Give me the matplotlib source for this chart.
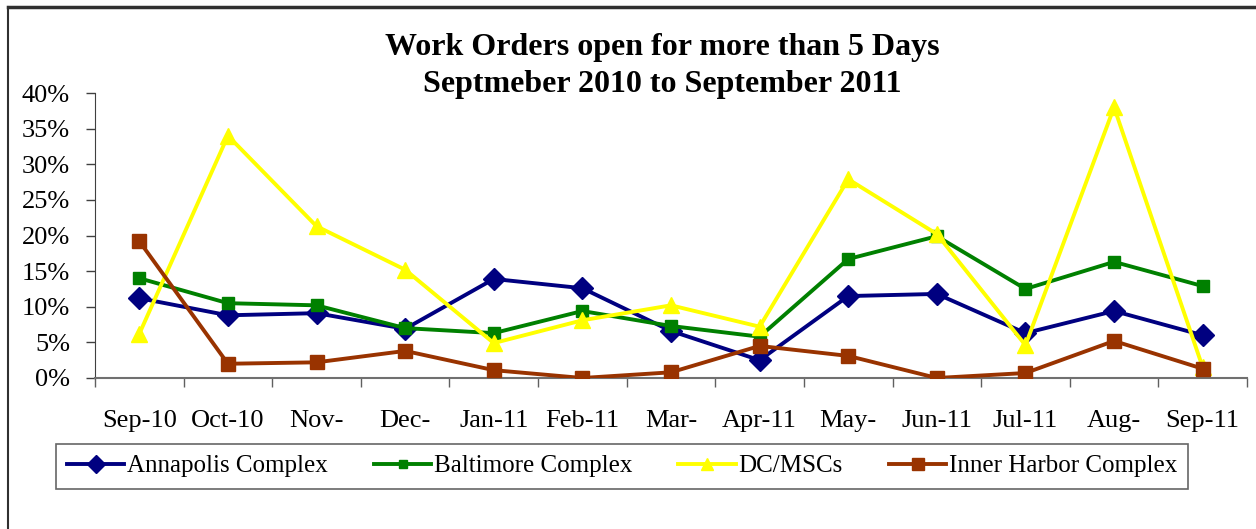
import numpy as np
import matplotlib
matplotlib.use("Agg")
import matplotlib.pyplot as plt
from matplotlib.lines import Line2D

months = ["Sep-10", "Oct-10", "Nov-", "Dec-", "Jan-11", "Feb-11", "Mar-",
          "Apr-11", "May-", "Jun-11", "Jul-11", "Aug-", "Sep-11"]

annapolis = [11.2, 8.8, 9.1, 6.9, 13.9, 12.6, 6.6, 2.5, 11.5, 11.8, 6.3, 9.4, 6.0]
baltimore = [14.0, 10.5, 10.2, 7.0, 6.3, 9.4, 7.3, 5.8, 16.7, 19.9, 12.5, 16.3, 12.9]
dc_mscs = [6.2, 34.0, 21.3, 15.2, 4.9, 8.1, 10.2, 7.2, 27.9, 20.2, 4.6, 38.0, 1.5]
inner_harbor = [19.2, 2.0, 2.2, 3.8, 1.1, 0.0, 0.8, 4.5, 3.1, 0.0, 0.7, 5.2, 1.3]

plt.rcParams['font.family'] = ['Liberation Serif', 'DejaVu Serif']

fig = plt.figure(figsize=(12.56, 5.29), dpi=100)
W, H = 1256, 529
ax = fig.add_axes([95 / W, 1 - 378 / H, (1247 - 95) / W, (378 - 93) / H])

x = np.arange(len(months))
ax.plot(x, annapolis, color='#000080', lw=2.8, marker='D', ms=11, label='Annapolis Complex', zorder=3)
ax.plot(x, baltimore, color='#008000', lw=2.8, marker='s', ms=8, label='Baltimore Complex', zorder=3)
ax.plot(x, dc_mscs, color='#FFFF00', lw=2.8, marker='^', ms=11, label='DC/MSCs', zorder=3)
ax.plot(x, inner_harbor, color='#993300', lw=2.8, marker='s', ms=10, label='Inner Harbor Complex', zorder=4)

ax.set_xlim(-0.5, len(months) - 0.5)
ax.set_ylim(0, 40)
ax.set_yticks(np.arange(0, 41, 5))
ax.set_yticklabels([f"{v}%" for v in range(0, 41, 5)], fontsize=19)
ax.set_xticks(x)
ax.set_xticklabels(months, fontsize=19)
ax.set_xticks(np.arange(-0.5, len(months)), minor=True)
ax.tick_params(axis='x', which='major', length=0, pad=23)
ax.tick_params(axis='x', which='minor', length=6.5, direction='out', color='#606060', width=1)
ax.tick_params(axis='y', length=6.5, direction='out', color='#404040', width=1, pad=11.5)
for s in ['top', 'right']:
    ax.spines[s].set_visible(False)
ax.spines['left'].set_color('#404040')
ax.spines['bottom'].set_color('#707070')
ax.spines['bottom'].set_linewidth(1.5)

fig.text(662 / W, 1 - 66 / H, "Work Orders open for more than 5 Days\nSeptmeber 2010 to September 2011",
         ha='center', va='center', fontsize=23, fontweight='bold', linespacing=1.38)

handles, labels = ax.get_legend_handles_labels()
leg = fig.legend(handles, labels, loc='center', bbox_to_anchor=(622 / W, 1 - 466 / H),
                 ncol=4, fontsize=18, frameon=True, fancybox=False, edgecolor='#404040',
                 columnspacing=1.85, handlelength=2.3, handletextpad=0.1, borderpad=0.45,
                 borderaxespad=0, markerscale=0.8)
leg.get_frame().set_linewidth(1.2)

# outer frame
fig.add_artist(Line2D([8 / W, 8 / W], [0, 1 - 7 / H], color='#303030', lw=1.5, transform=fig.transFigure))
fig.add_artist(Line2D([8 / W, 1], [1 - 7 / H, 1 - 7 / H], color='#303030', lw=2.5, transform=fig.transFigure))

fig.savefig("out.png", dpi=100)
